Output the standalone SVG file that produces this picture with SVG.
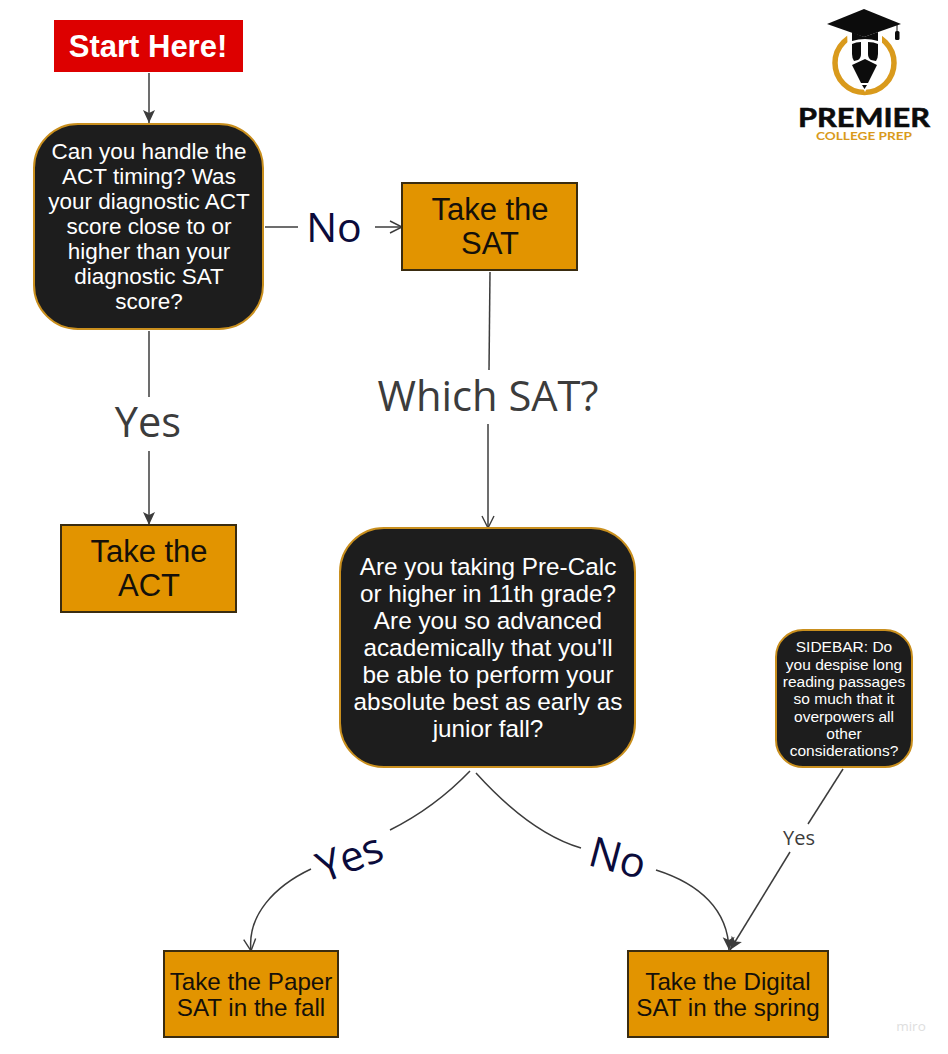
<svg xmlns="http://www.w3.org/2000/svg" width="948" height="1054" viewBox="0 0 948 1054">
<style>
text{font-family:"Liberation Sans",Arial,sans-serif;text-anchor:middle}
.dark{fill:#1d1d1d;stroke:#c98f1e;stroke-width:2}
.org{fill:#e29400;stroke:#3a2c10;stroke-width:2}
.w{fill:#fff}
.o{fill:#14100a;font-size:31px}
.lab{font-family:"Open Sans","Noto Sans",sans-serif;fill:#3c3c3c}
.nv{font-family:"Open Sans","Noto Sans",sans-serif;fill:#0b0b3b}
.c{fill:none;stroke:#3c3c3c;stroke-width:1.5}
</style>
<defs>
<marker id="open" markerWidth="16" markerHeight="16" refX="13" refY="7" orient="auto" markerUnits="userSpaceOnUse"><path d="M1 1L13 7L1 13" fill="none" stroke="#3c3c3c" stroke-width="1.4"/></marker>
<marker id="solid" markerWidth="16" markerHeight="16" refX="14" refY="7" orient="auto" markerUnits="userSpaceOnUse"><path d="M1 1L14 7L1 13L4 7Z" fill="#3c3c3c"/></marker>
</defs>
<g id="connectors">
<path class="c" d="M149 73V123" marker-end="url(#solid)"/>
<path class="c" d="M265 227H298"/>
<path class="c" d="M375 227H402" marker-end="url(#open)"/>
<path class="c" d="M149 331V397"/>
<path class="c" d="M149 451V525" marker-end="url(#solid)"/>
<path class="c" d="M490 272L489 370"/>
<path class="c" d="M488 424L488 528" marker-end="url(#open)"/>
<path class="c" d="M470 771C445 797 418 816 390 830"/>
<path class="c" d="M311 869C275 886 247 915 251 951" marker-end="url(#open)"/>
<path class="c" d="M476 773C505 805 540 836 581 848"/>
<path class="c" d="M656 870C700 884 728 910 729 950" marker-end="url(#solid)"/>
<path class="c" d="M843 769L808 824"/>
<path class="c" d="M790 852L730 950" marker-end="url(#solid)"/>
</g>
<g id="start"><rect x="54" y="20" width="189" height="52" fill="#dd0000"/><text x="148" y="56.500" class="w" font-size="31" font-weight="700">Start Here!</text></g>
<g id="q1"><rect class="dark" x="34" y="124" width="229" height="205" rx="44"/>
<text class="w" font-size="22.500"><tspan x="149" y="159">Can you handle the</tspan><tspan x="149" y="184">ACT timing? Was</tspan><tspan x="149" y="209">your diagnostic ACT</tspan><tspan x="149" y="234">score close to or</tspan><tspan x="149" y="259">higher than your</tspan><tspan x="149" y="284">diagnostic SAT</tspan><tspan x="149" y="309">score?</tspan></text></g>
<g id="sat"><rect class="org" x="402" y="183" width="175" height="87"/><text class="o"><tspan x="490" y="219.500">Take the</tspan><tspan x="490" y="254">SAT</tspan></text></g>
<g id="act"><rect class="org" x="61" y="525" width="175" height="87"/><text class="o"><tspan x="149" y="561.500">Take the</tspan><tspan x="149" y="596">ACT</tspan></text></g>
<g id="q2"><rect class="dark" x="340" y="528" width="295" height="239" rx="44"/>
<text class="w" font-size="24.300"><tspan x="488" y="575">Are you taking Pre-Calc</tspan><tspan x="488" y="602">or higher in 11th grade?</tspan><tspan x="488" y="629">Are you so advanced</tspan><tspan x="488" y="656">academically that you'll</tspan><tspan x="488" y="683">be able to perform your</tspan><tspan x="488" y="710">absolute best as early as</tspan><tspan x="488" y="737">junior fall?</tspan></text></g>
<g id="sidebar"><rect class="dark" x="776" y="630" width="136" height="137" rx="27"/>
<text class="w" font-size="15.500"><tspan x="844" y="652">SIDEBAR: Do</tspan><tspan x="844" y="670">you despise long</tspan><tspan x="844" y="687">reading passages</tspan><tspan x="844" y="704">so much that it</tspan><tspan x="844" y="722">overpowers all</tspan><tspan x="844" y="739">other</tspan><tspan x="844" y="756">considerations?</tspan></text></g>
<g id="paper"><rect class="org" x="164" y="951" width="174" height="86"/><text fill="#14100a" font-size="24.200"><tspan x="251" y="990">Take the Paper</tspan><tspan x="251" y="1016">SAT in the fall</tspan></text></g>
<g id="digital"><rect class="org" x="628" y="951" width="200" height="86"/><text fill="#14100a" font-size="24.200"><tspan x="728" y="990">Take the Digital</tspan><tspan x="728" y="1016">SAT in the spring</tspan></text></g>
<g id="labels">
<text class="nv" x="334" y="242" font-size="41">No</text>
<text class="lab" x="148" y="437" font-size="41.500">Yes</text>
<text class="lab" x="488" y="411" font-size="41.700">Which SAT?</text>
<text class="lab" x="799" y="845" font-size="20">Yes</text>
<text class="nv" font-size="42" transform="translate(355 871) rotate(-21)">Yes</text>
<text class="nv" font-size="42" transform="translate(614 872) rotate(15)">No</text>
<text x="911" y="1031" font-size="13.500" fill="#dedede" style="font-family:'Open Sans',sans-serif">miro</text>
</g>
<g id="logo">
<circle cx="864.500" cy="63" r="29.500" fill="none" stroke="#d99a1c" stroke-width="5.500"/>
<path d="M847 30H882V58L865 92L848 58Z" fill="#fff"/>
<path d="M827 24L864 9L901 24L864 37Z" fill="#0c0c0c"/>
<path d="M852 32L864 37L878 32V41Q865 37 852 41Z" fill="#0c0c0c"/>
<path d="M852 44Q856 42 861 42V54Q861 58 858 60L854 61Q852 58 852 54ZM868 42Q874 42 878 44V54Q878 58 876 61L871 60Q868 58 868 54Z" fill="#0c0c0c"/>
<path d="M852 65L865 59L877 65L868 83H861Z" fill="#0c0c0c"/>
<path d="M862 85H867L864.500 89Z" fill="#0c0c0c"/>
<path d="M897 25V31" stroke="#0c0c0c" stroke-width="1"/><rect x="895" y="31" width="4.500" height="9" rx="1.500" fill="#0c0c0c"/>
<text x="864" y="126.500" font-size="27.500" font-weight="700" fill="#0c0c0c" stroke="#0c0c0c" stroke-width=".6" style="font-family:Lato,Roboto,sans-serif" textLength="132" lengthAdjust="spacingAndGlyphs">PREMIER</text>
<text x="864" y="139.500" font-size="12" font-weight="700" fill="#d99a1c" style="font-family:Lato,Roboto,sans-serif" textLength="96" lengthAdjust="spacingAndGlyphs">COLLEGE PREP</text>
</g>
</svg>
